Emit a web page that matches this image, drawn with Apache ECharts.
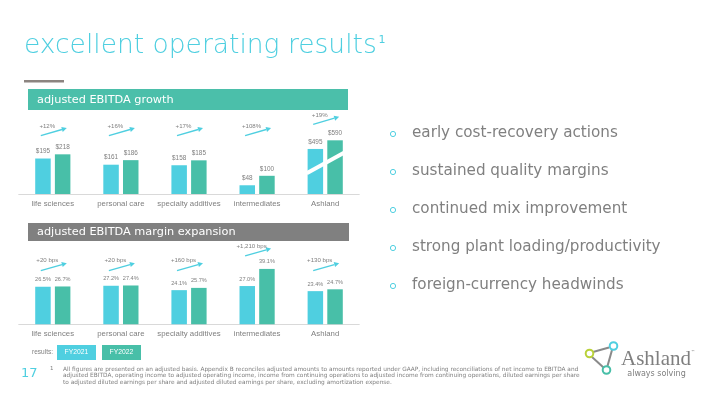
<!DOCTYPE html>
<html><head><meta charset="utf-8">
<script src="https://cdn.jsdelivr.net/npm/echarts@6/dist/echarts.min.js"></script>
<style>html,body{margin:0;padding:0;background:#fff}#c{width:720px;height:405px}</style>
</head><body><div id="c"></div>
<script>
// ---------- data ----------
const categories = ['life sciences', 'personal care', 'specialty additives', 'intermediates', 'Ashland'];
const years = ['FY2021', 'FY2022'];
const ebitda2021 = [195, 161, 158, 48, 495];
const ebitda2022 = [218, 186, 185, 100, 590];
const ebitdaGrowth = ['+12%', '+16%', '+17%', '+108%', '+19%'];
const margin2021 = [26.5, 27.2, 24.1, 27.0, 23.4];
const margin2022 = [26.7, 27.4, 25.7, 39.1, 24.7];
const marginChange = ['+20 bps', '+20 bps', '+160 bps', '+1,210 bps', '+130 bps'];
const titleText = 'excellent operating results';
const panelTitles = ['adjusted EBITDA growth', 'adjusted EBITDA margin expansion'];
const bullets = ['early cost-recovery actions', 'sustained quality margins', 'continued mix improvement',
  'strong plant loading/productivity', 'foreign-currency headwinds'];
const footnote = [
  'All figures are presented on an adjusted basis. Appendix B reconciles adjusted amounts to amounts reported under GAAP, including reconciliations of net income to EBITDA and',
  'adjusted EBITDA, operating income to adjusted operating income, income from continuing operations to adjusted income from continuing operations, diluted earnings per share',
  'to adjusted diluted earnings per share and adjusted diluted earnings per share, excluding amortization expense.'
];

// ---------- styles ----------
const FONT = 'DejaVu Sans';
const SMALL = 'Liberation Sans';
const C1 = '#4fcfe0', C2 = '#48bfa8', GRAY = '#7f7f7f';
const nA = 4; // divisions plotted on the first scale; total company on a half scale

function part(arr, g) { return g % 2 === 0 ? arr.slice(0, nA) : arr.slice(nA); }

const grids = [
  { left: 18.75, width: 272.4, top: 121.2, height: 72.8 },
  { left: 291.15, width: 68.1, top: 121.2, height: 72.8 },
  { left: 18.75, width: 272.4, top: 253.5, height: 70.75 },
  { left: 291.15, width: 68.1, top: 253.5, height: 70.75 }
];
const yMax = [400, 800, 50, 50];

const xAxis = [], yAxis = [], series = [];
for (let g = 0; g < 4; g++) {
  xAxis.push({
    type: 'category', gridIndex: g, data: part(categories, g),
    axisLine: { lineStyle: { color: '#d9d9d9', width: 1 } },
    axisTick: { show: false },
    axisLabel: { interval: 0, fontFamily: SMALL, fontSize: 7.8, color: GRAY, margin: 5.5 }
  });
  yAxis.push({ type: 'value', gridIndex: g, min: 0, max: yMax[g], show: false, splitLine: { show: false } });
  const top = g < 2;
  const d1 = part(top ? ebitda2021 : margin2021, g);
  const d2 = part(top ? ebitda2022 : margin2022, g);
  [d1, d2].forEach((d, k) => {
    series.push({
      type: 'bar', name: years[k], xAxisIndex: g, yAxisIndex: g, data: d,
      barWidth: 15.5, barGap: '27%',
      itemStyle: { color: k === 0 ? C1 : C2 },
      label: {
        show: true, position: 'top', distance: 4, fontFamily: SMALL, fontSize: top ? 6.4 : 5.6, color: GRAY,
        formatter: p => top ? '$' + p.value : p.value.toFixed(1) + '%'
      },
      animation: false
    });
  });
}

const chart = echarts.init(document.getElementById('c'));
chart.setOption({ animation: false, grid: grids, xAxis, yAxis, series });

// ---------- annotations derived from the scales ----------
const G = [];
function arrow(x1, y1, x2, y2) {
  const a = Math.atan2(y2 - y1, x2 - x1), L = 5, W = 2.6;
  const bx = x2 - L * Math.cos(a), by = y2 - L * Math.sin(a);
  G.push({ type: 'line', shape: { x1, y1, x2: bx, y2: by }, style: { stroke: C1, lineWidth: 1.4 }, silent: true });
  G.push({ type: 'polygon', shape: { points: [[x2, y2], [bx - W * Math.sin(a), by + W * Math.cos(a)], [bx + W * Math.sin(a), by - W * Math.cos(a)]] }, style: { fill: C1 }, silent: true });
}
function txt(text, x, y, size, color, align, family) {
  G.push({ type: 'text', silent: true, style: { text, x, y, fontFamily: family || FONT, fontSize: size, fill: color, align: align || 'left', verticalAlign: 'middle' } });
}

const annot = [
  { a: ebitda2021, b: ebitda2022, lab: ebitdaGrowth, g0: 0, level: 135.6, k: 16, dy: 9 },
  { a: margin2021, b: margin2022, lab: marginChange, g0: 2, level: 270.7, k: 13, dy: 10 }
];
annot.forEach(an => {
  categories.forEach((cat, i) => {
    const g = an.g0 + (i < nA ? 0 : 1);
    const cx = chart.convertToPixel({ xAxisIndex: g }, cat);
    const topY = chart.convertToPixel({ yAxisIndex: g }, Math.max(an.a[i], an.b[i]));
    const y0 = Math.min(an.level, topY - an.k);
    arrow(cx - 12, y0, cx + 14, y0 - 7.5);
    txt(an.lab[i], cx - 5.5, y0 - an.dy, 6.1, GRAY, 'center', SMALL);
  });
});
// scale-break slash across the total-company bars (half scale)
{
  const cx = chart.convertToPixel({ xAxisIndex: 1 }, categories[4]);
  const ym = chart.convertToPixel({ yAxisIndex: 1 }, 340);
  G.push({ type: 'line', z: 100, shape: { x1: cx - 18.5, y1: ym + 10.3, x2: cx + 18.8, y2: ym - 10.3 }, style: { stroke: '#fff', lineWidth: 4 }, silent: true });
}

// ---------- slide furniture ----------
G.push({ type: 'text', silent: true, style: { text: titleText, x: 24, y: 46, fontFamily: FONT, fontSize: 26.5, fontWeight: 200, fill: C1, verticalAlign: 'middle' } });
txt('1', 378.5, 40, 11, C1);
G.push({ type: 'rect', shape: { x: 24, y: 80, width: 40, height: 2.5 }, style: { fill: '#8c8480' }, silent: true });
G.push({ type: 'rect', shape: { x: 28, y: 89, width: 320, height: 21 }, style: { fill: '#4bbfaa' }, silent: true });
txt(panelTitles[0], 37, 100, 11.3, '#fff');
G.push({ type: 'rect', shape: { x: 28, y: 223, width: 321, height: 18 }, style: { fill: '#808080' }, silent: true });
txt(panelTitles[1], 37, 232.5, 11.3, '#fff');

bullets.forEach((b, i) => {
  const y = 133 + i * 38;
  G.push({ type: 'circle', shape: { cx: 393, cy: y + 1, r: 2.6 }, style: { fill: 'none', stroke: C1, lineWidth: 1 }, silent: true });
  txt(b, 412, y, 15.2, '#808080');
});

txt('results:', 53, 352.5, 6.5, GRAY, 'right', SMALL);
years.forEach((yr, k) => {
  const x = k === 0 ? 57 : 102;
  G.push({ type: 'rect', shape: { x, y: 345, width: 39, height: 15 }, style: { fill: k === 0 ? C1 : C2 }, silent: true });
  txt(yr, x + 19.5, 352.5, 6.8, '#fff', 'center', SMALL);
});

txt('17', 21, 374, 13, C1);
txt('1', 50, 369, 5.5, GRAY);
footnote.forEach((l, i) => txt(l, 63, 369.5 + i * 6.4, 5.83, GRAY));

// logo
G.push({ type: 'line', shape: { x1: 593, y1: 352, x2: 609, y2: 347.5 }, style: { stroke: '#8a8a8a', lineWidth: 2 }, silent: true });
G.push({ type: 'line', shape: { x1: 612, y1: 350, x2: 607.5, y2: 366 }, style: { stroke: '#8a8a8a', lineWidth: 2 }, silent: true });
G.push({ type: 'line', shape: { x1: 592, y1: 357, x2: 603.5, y2: 367.5 }, style: { stroke: '#8a8a8a', lineWidth: 2 }, silent: true });
G.push({ type: 'circle', shape: { cx: 589.5, cy: 353.5, r: 3.8 }, style: { fill: '#fff', stroke: '#b9d13a', lineWidth: 2 }, silent: true });
G.push({ type: 'circle', shape: { cx: 613.5, cy: 346, r: 3.8 }, style: { fill: '#fff', stroke: C1, lineWidth: 2 }, silent: true });
G.push({ type: 'circle', shape: { cx: 606.5, cy: 370, r: 3.8 }, style: { fill: '#fff', stroke: C2, lineWidth: 2 }, silent: true });
G.push({ type: 'text', silent: true, style: { text: 'Ashland', x: 621, y: 359.5, fontFamily: 'Liberation Serif', fontSize: 21, fill: '#7f7f7f', verticalAlign: 'middle' } });
txt('™', 691, 352, 4, GRAY);
txt('always solving', 656.5, 373.5, 8, GRAY, 'center');

chart.setOption({ graphic: G });
</script></body></html>
